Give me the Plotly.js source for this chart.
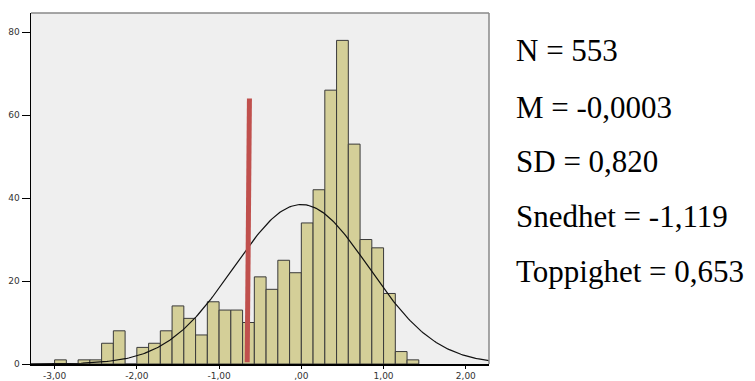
<!DOCTYPE html>
<html>
<head>
<meta charset="utf-8">
<script src="https://cdn.plot.ly/plotly-3.0.1.min.js"></script>
<style>html,body{margin:0;padding:0;background:#fff;}#chart{width:755px;height:381px;}</style>
</head>
<body>
<div id="chart"></div>
<script>
// Histogram data (bin width 1/7, first bin starts at -3.00)
const binStart = -3.0;
const binWidth = 1 / 7;
const counts = [1, 0, 1, 1, 5, 8, 0, 4, 5, 8, 14, 11, 7, 15, 13, 13, 10, 21, 18, 25, 22, 34, 42, 66, 78, 53, 30, 28, 17, 3, 1];

// Summary statistics
const statN = 553;
const statM = -0.0003;
const statSD = 0.820;
const statLabels = ["N = 553", "M = -0,0003", "SD = 0,820", "Snedhet = -1,119", "Toppighet = 0,653"];

// Red marker line
const markerX = [-0.658, -0.631];
const markerY = [0.4, 64];

// Axis ticks
const xTickVals = [-3, -2, -1, 0, 1, 2];
const xTickText = ["-3,00", "-2,00", "-1,00", ",00", "1,00", "2,00"];
const yTickVals = [0, 20, 40, 60, 80];

const xCenters = counts.map((_, i) => binStart + (i + 0.5) * binWidth);

// Fitted normal curve from N, M, SD (as in the SPSS histogram)
const curveX = [], curveY = [];
for (let x = -3.3; x <= 2.3001; x += 0.02) {
  curveX.push(x);
  curveY.push(statN * binWidth / (statSD * Math.sqrt(2 * Math.PI)) * Math.exp(-0.5 * Math.pow((x - statM) / statSD, 2)));
}

const traces = [
  {
    type: 'bar', x: xCenters, y: counts, width: binWidth,
    marker: {color: '#d4cf98', line: {color: '#3a3a3a', width: 1}},
    hoverinfo: 'skip', showlegend: false
  },
  {
    type: 'scatter', mode: 'lines', x: curveX, y: curveY,
    line: {color: '#111111', width: 1.2}, hoverinfo: 'skip', showlegend: false
  },
  {
    type: 'scatter', mode: 'lines', x: markerX, y: markerY,
    line: {color: '#c0504d', width: 5}, hoverinfo: 'skip', showlegend: false
  }
];

const lineY = [0.893, 0.73, 0.577, 0.42, 0.263];
const annotations = statLabels.map((t, i) => ({
  text: t, xref: 'paper', yref: 'paper', x: 1.055, y: lineY[i],
  xanchor: 'left', yanchor: 'middle', showarrow: false,
  font: {family: '"Liberation Serif", "Times New Roman", serif', size: 31, color: '#000'}
}));

const tickFont = {family: '"DejaVu Sans", Arial, sans-serif', size: 9, color: '#333'};

const layout = {
  width: 755, height: 381,
  margin: {l: 31, r: 266, t: 13, b: 17, pad: 0},
  paper_bgcolor: '#ffffff', plot_bgcolor: '#efefef',
  bargap: 0,
  xaxis: {
    range: [-3.287, 2.282], tickvals: xTickVals, ticktext: xTickText,
    ticks: 'outside', ticklen: 3, tickcolor: '#000', tickwidth: 1,
    showline: true, linecolor: '#000', linewidth: 1.5, showgrid: false, zeroline: false,
    tickfont: tickFont
  },
  yaxis: {
    range: [0, 84.6], tickvals: yTickVals,
    ticks: 'outside', ticklen: 8, tickcolor: '#000', tickwidth: 1,
    showline: true, linecolor: '#000', linewidth: 1.5, showgrid: false, zeroline: false,
    tickfont: tickFont
  },
  shapes: [
    {type: 'line', xref: 'paper', yref: 'paper', x0: 0, x1: 1, y0: 1, y1: 1, line: {color: '#888', width: 1.5}},
    {type: 'line', xref: 'paper', yref: 'paper', x0: 1, x1: 1, y0: 0, y1: 1, line: {color: '#888', width: 1.5}}
  ],
  annotations: annotations
};

Plotly.newPlot('chart', traces, layout, {displayModeBar: false, staticPlot: true});
</script>
</body>
</html>
